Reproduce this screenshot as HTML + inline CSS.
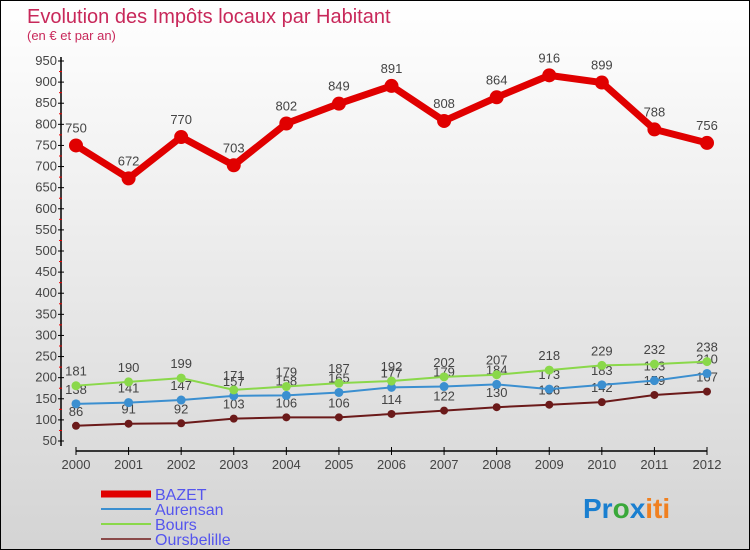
<!DOCTYPE html>
<html><head><meta charset="utf-8"><style>
body{margin:0}
#c{width:750px;height:550px;position:relative;box-sizing:border-box;border:1px solid #000;background:linear-gradient(#fff,#d4d4d4);font-family:"Liberation Sans","DejaVu Sans",sans-serif;overflow:hidden}
svg{position:absolute;left:0;top:0}
</style></head><body>
<div id="c">
<svg id="s" width="750" height="550">
<text x="26" y="22" font-size="20" fill="#c8285a">Evolution des Impôts locaux par Habitant</text>
<text x="26" y="39" font-size="13" fill="#c8285a">(en € et par an)</text>
<text x="582" y="517" font-size="28" font-weight="bold"><tspan fill="#1a7fd0">Pr</tspan><tspan fill="#3aa83a">o</tspan><tspan fill="#1a7fd0">x</tspan><tspan fill="#f08020">iti</tspan></text>
</svg>
</div>
<script>
const years=[2000,2001,2002,2003,2004,2005,2006,2007,2008,2009,2010,2011,2012];
const bazet=[750,672,770,703,802,849,891,808,864,916,899,788,756];
const aurensan=[138,141,147,157,158,165,177,179,184,173,183,193,210];
const bours=[181,190,199,171,179,187,192,202,207,218,229,232,238];
const oursbelille=[86,91,92,103,106,106,114,122,130,136,142,159,167];
const yTicks=[50,100,150,200,250,300,350,400,450,500,550,600,650,700,750,800,850,900,950];
const NS="http://www.w3.org/2000/svg",s=document.getElementById('s');
const X=i=>75+i*(631/12), Y=v=>440-(v-50)*380/900;
function el(t,a,p){const e=document.createElementNS(NS,t);for(const k in a)e.setAttribute(k,a[k]);(p||s).appendChild(e);return e;}
let e=el('line',{x1:60,y1:56,x2:60,y2:445,stroke:'#000','stroke-width':1.5});

e=el('line',{x1:75,y1:450,x2:706,y2:450,stroke:'#000','stroke-width':1.5});

yTicks.forEach(v=>{const y=Y(v);
el('line',{x1:57,y1:y,x2:63,y2:y,stroke:'#000'});
if(v<950)el('line',{x1:58,y1:Y(v+25),x2:61,y2:Y(v+25),stroke:'#e00'});
const t=el('text',{x:56,y:y+4,'font-size':13,fill:'#444','text-anchor':'end'});t.textContent=v;
});
years.forEach((yr,i)=>{el('line',{x1:X(i),y1:446,x2:X(i),y2:454,stroke:'#000'});
const t=el('text',{x:X(i),y:468,'font-size':13,fill:'#444','text-anchor':'middle'});t.textContent=yr;
});
function series(d,col,w,r,name,lab){
const p=el('polyline',{points:d.map((v,i)=>X(i)+','+Y(v)).join(' '),fill:'none',stroke:col,'stroke-width':w,'stroke-linejoin':'round'});

d.forEach((v,i)=>{const c=el('circle',{cx:X(i),cy:Y(v),r:r,fill:col});

const t=el('text',{x:X(i),y:Y(v)-lab,'font-size':13,fill:'#444','text-anchor':'middle'});t.textContent=v;
});}
series(oursbelille,'#6b1a1a',2,4,'oursbelille',10);
series(aurensan,'#3b8fd0',2,4.5,'aurensan',10);
series(bours,'#8ad84a',2,4.5,'bours',10);
series(bazet,'#e00000',7,7,'bazet',13);
const leg=[['BAZET','#e00000',7],['Aurensan','#3b8fd0',2],['Bours','#8ad84a',2],['Oursbelille','#8a4a4a',2]];
leg.forEach((l,i)=>{const y=493+i*15;
const g=el('line',{x1:100,y1:y,x2:150,y2:y,stroke:l[1],'stroke-width':l[2]});

const t=el('text',{x:154,y:y+6,'font-size':16,fill:'#5555ee'});t.textContent=l[0];
});
</script>
</body></html>
